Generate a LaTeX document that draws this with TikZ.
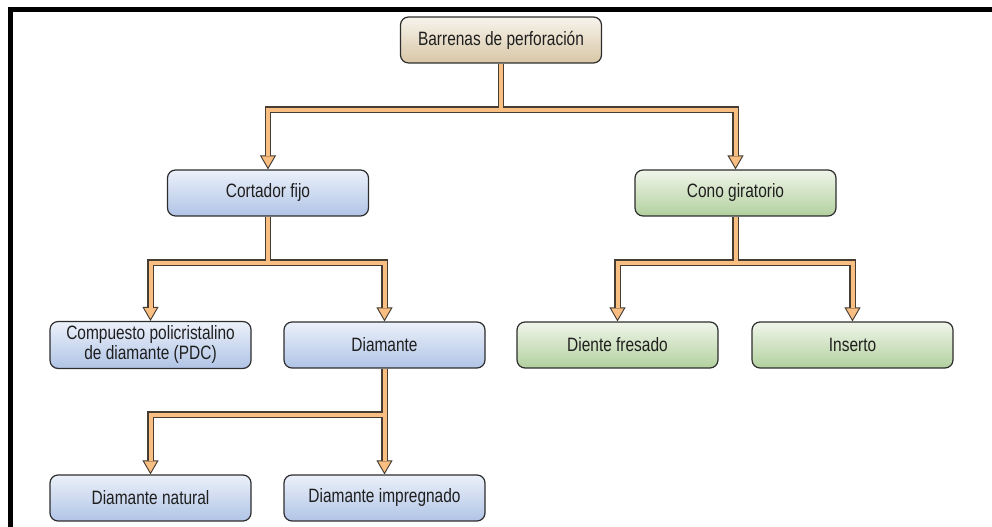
\documentclass[tikz,border=0pt]{standalone}
\usepackage{fontspec}
\setmainfont{Liberation Sans}[FakeStretch=0.8]
\usetikzlibrary{arrows.meta}
\definecolor{pipeorange}{RGB}{249,190,130}
\definecolor{pipeedge}{RGB}{70,60,50}
\definecolor{boxedge}{RGB}{45,45,45}
\definecolor{blueTop}{RGB}{236,241,250}
\definecolor{blueBot}{RGB}{176,196,230}
\definecolor{greenTop}{RGB}{240,245,234}
\definecolor{greenBot}{RGB}{178,208,158}
\definecolor{rootTop}{RGB}{247,243,236}
\definecolor{rootBot}{RGB}{216,199,166}
\begin{document}
\begin{tikzpicture}[x=0.75pt, y=0.75pt,
    box/.style={rectangle, rounded corners=6pt, draw=boxedge, line width=0.9pt,
      minimum width=150.75pt, minimum height=34.5pt, align=center,
      font=\fontsize{14.5}{15}\selectfont, text=black!88},
    bluebox/.style={box, top color=blueTop, bottom color=blueBot},
    greenbox/.style={box, top color=greenTop, bottom color=greenBot},
    rootbox/.style={box, top color=rootTop, bottom color=rootBot},
    pipeback/.style={draw=pipeedge, line width=4.8pt, shorten <=0.5pt,
      -{Triangle[length=10.5pt, width=12pt, line width=0.7pt, fill=pipeorange]}},
    pipefront/.style={draw=pipeorange, line width=3pt, shorten <=0.5pt, shorten >=10pt}]
  \useasboundingbox (0,0) rectangle (992,527);
  % frame
  \draw[line width=3.2pt] (992,517.5) -- (10.5,517.5) -- (10.5,0);
  % top level
  \node[rootbox] (root) at (501,487) {Barrenas de perforación};
  % second level
  \node[bluebox] (fixed) at (268,334) {Cortador fijo};
  \node[greenbox] (cone) at (735.5,334) {Cono giratorio};
  % third level
  \node[bluebox] (pdc) at (150.5,182) {Compuesto policristalino\\de diamante (PDC)};
  \node[bluebox] (diam) at (384.5,182) {Diamante};
  \node[greenbox] (mill) at (617.5,182) {Diente fresado};
  \node[greenbox] (insert) at (852.5,182) {Inserto};
  % fourth level
  \node[bluebox] (natural) at (150.5,29) {Diamante natural};
  \node[bluebox] (impreg) at (384.5,29) {Diamante impregnado};
  % connectors: edge first, then the orange core
  \foreach \a/\b in {root/fixed, root/cone, fixed/pdc, fixed/diam, cone/mill, cone/insert, diam/natural, diam/impreg}
    \draw[pipeback] (\a.south) -- ++(0,-46) -| (\b.north);
  \foreach \a/\b in {root/fixed, root/cone, fixed/pdc, fixed/diam, cone/mill, cone/insert, diam/natural, diam/impreg}
    \draw[pipefront] (\a.south) -- ++(0,-46) -| (\b.north);
\end{tikzpicture}
\end{document}
